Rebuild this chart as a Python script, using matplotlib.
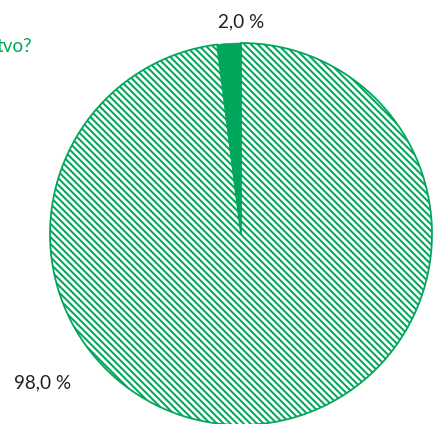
import matplotlib
matplotlib.use("Agg")
import matplotlib.pyplot as plt

shares = [2.0, 98.0]
share_labels = ["2,0 %", "98,0 %"]
title_tail = "tvo?"

green = "#00a65a"
text_dark = "#231f20"

plt.rcParams["hatch.linewidth"] = 1.8
plt.rcParams["hatch.color"] = green

dpi = 80
fig = plt.figure(figsize=(433 / dpi, 424 / dpi), dpi=dpi)
ax = fig.add_axes([50 / 433, -1 / 424, 382 / 433, 382 / 424])

wedges, _ = ax.pie(shares, startangle=90, counterclock=True, radius=1,
                   colors=[green, "white"], frame=False)
wedges[0].set_edgecolor(green)
wedges[0].set_linewidth(0.5)
wedges[1].set_hatch("\\\\\\\\")
wedges[1].set_edgecolor(green)
wedges[1].set_linewidth(1.6)
for wd in wedges:
    wd.set_clip_on(False)

ax.set_xlim(-1, 1)
ax.set_ylim(-1, 1)
ax.set_aspect("equal")
ax.axis("off")

font = "Lato"
ax.text(0.0, 1.11, share_labels[0], ha="center", va="center",
        fontsize=17, color=text_dark, family=font)
ax.text(-1.04, -0.78, share_labels[1], ha="center", va="center",
        fontsize=17, color=text_dark, family=font)
fig.text(32 / 433, 1 - 46 / 424, title_tail, ha="right", va="center",
         fontsize=17, color=green, family=font)

fig.savefig("out.png", dpi=dpi)
